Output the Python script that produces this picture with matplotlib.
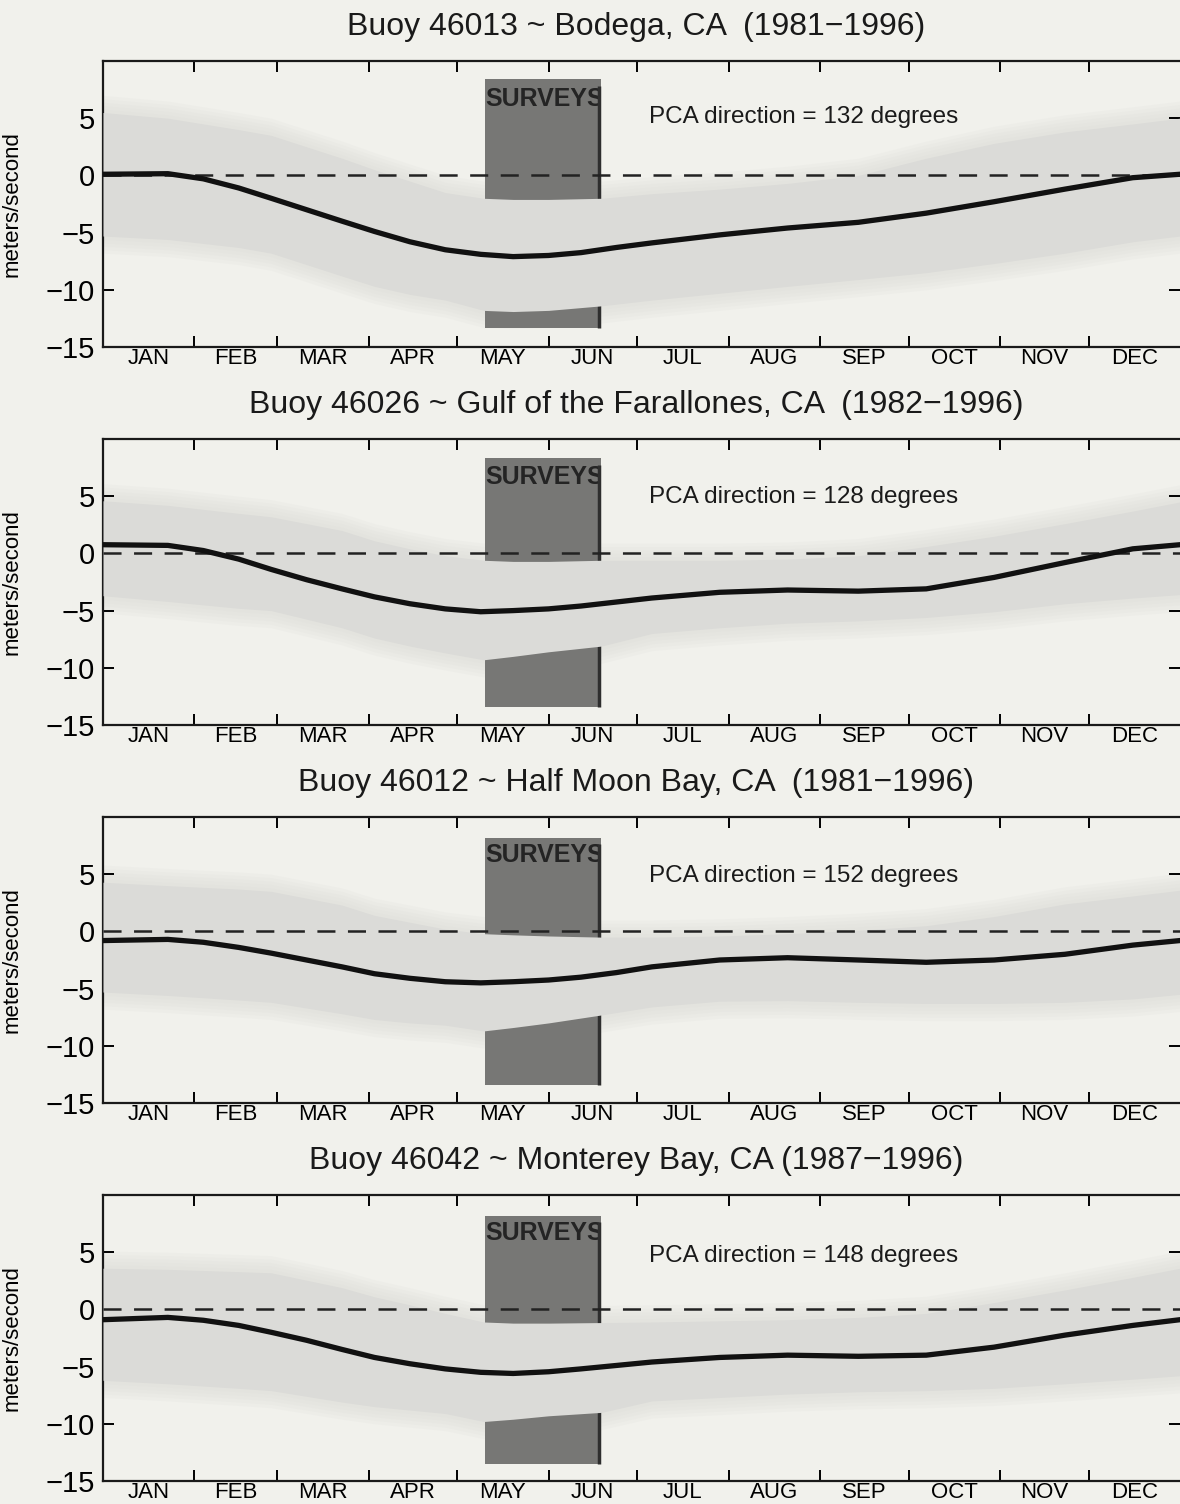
import numpy as np
import matplotlib
matplotlib.use('Agg')
import matplotlib.pyplot as plt
from matplotlib.patches import Rectangle

plt.rcParams['font.family'] = ['Liberation Sans', 'DejaVu Sans']
plt.rcParams['lines.scale_dashes'] = False

# buoy titles and principal-axis directions
titles = ['Buoy 46013 ~ Bodega, CA  (1981\u22121996)',
          'Buoy 46026 ~ Gulf of the Farallones, CA  (1982\u22121996)',
          'Buoy 46012 ~ Half Moon Bay, CA  (1981\u22121996)',
          'Buoy 46042 ~ Monterey Bay, CA (1987\u22121996)']
pca_dir = [132, 128, 152, 148]
pca_y = [5.1, 4.9, 4.8, 4.7]

months = ['JAN', 'FEB', 'MAR', 'APR', 'MAY', 'JUN',
          'JUL', 'AUG', 'SEP', 'OCT', 'NOV', 'DEC']
month_edges = [0, 31, 59, 90, 120, 151, 181, 212, 243, 273, 304, 334, 365]

# mean along-shore wind (day of year, m/s)
line_days = [0, 22, 34, 46, 57, 69, 81, 92, 104, 116, 128, 139, 151, 162,
             174, 186, 209, 232, 256, 279, 302, 326, 349, 365]
mean_46013 = [0.1, 0.15, -0.3, -1.1, -2.0, -3.0, -4.0, -4.9, -5.8, -6.5, -6.9, -7.1,
              -7.0, -6.75, -6.3, -5.9, -5.2, -4.6, -4.1, -3.3, -2.3, -1.2, -0.2, 0.1]
mean_46026 = [0.76, 0.7, 0.25, -0.5, -1.4, -2.3, -3.1, -3.8, -4.4, -4.85, -5.1, -5.0,
              -4.85, -4.6, -4.25, -3.9, -3.4, -3.2, -3.3, -3.1, -2.1, -0.8, 0.4, 0.76]
mean_46012 = [-0.8, -0.7, -0.95, -1.4, -1.9, -2.5, -3.1, -3.7, -4.1, -4.4, -4.5, -4.4,
              -4.25, -4.0, -3.6, -3.1, -2.5, -2.3, -2.5, -2.7, -2.5, -2.0, -1.2, -0.8]
mean_46042 = [-0.9, -0.7, -0.95, -1.4, -2.0, -2.7, -3.5, -4.2, -4.75, -5.2, -5.5, -5.6,
              -5.45, -5.2, -4.9, -4.6, -4.2, -4.0, -4.1, -4.0, -3.3, -2.25, -1.4, -0.9]

# +/- one standard deviation envelope
band_days = [0, 22, 46, 57, 81, 92, 104, 116, 129, 139, 151, 169, 186, 209,
             232, 256, 279, 302, 326, 349, 365]
hi_46013 = [5.5, 5.0, 4.0, 3.5, 1.5, 0.5, -0.5, -1.5, -2.0, -2.1, -2.1, -2.0, -1.6,
            -1.2, -0.7, 0.0, 1.5, 2.8, 3.8, 4.5, 5.0]
lo_46013 = [-5.3, -5.6, -6.3, -6.8, -8.8, -9.7, -10.4, -10.9, -11.8, -11.9, -11.8,
            -11.4, -10.9, -10.3, -9.7, -9.1, -8.5, -7.7, -6.8, -5.8, -5.3]
hi_46026 = [4.6, 4.2, 3.5, 3.2, 2.0, 1.1, 0.4, -0.2, -0.6, -0.7, -0.7, -0.6, -0.6,
            -0.6, -0.5, -0.2, 0.6, 1.5, 2.6, 3.7, 4.5]
lo_46026 = [-3.7, -4.2, -4.8, -5.0, -6.5, -7.4, -8.1, -8.7, -9.3, -9.0, -8.6, -8.1,
            -7.0, -6.5, -6.1, -5.9, -5.6, -5.1, -4.4, -3.9, -3.6]
hi_46012 = [4.3, 4.0, 3.7, 3.5, 2.3, 1.4, 0.8, 0.2, -0.2, -0.3, -0.4, -0.5, -0.5,
            -0.4, -0.2, 0.1, 0.5, 1.3, 2.4, 3.1, 3.6]
lo_46012 = [-5.3, -5.6, -6.0, -6.2, -7.2, -7.7, -8.0, -8.2, -8.7, -8.4, -8.0, -7.3,
            -6.6, -6.1, -6.05, -6.2, -6.3, -6.3, -6.2, -5.9, -5.5]
hi_46042 = [3.6, 3.5, 3.3, 3.2, 1.9, 1.1, 0.4, -0.35, -1.1, -1.2, -1.2, -1.15, -1.1,
            -1.0, -0.9, -0.7, -0.35, 0.6, 1.7, 2.8, 3.6]
lo_46042 = [-6.2, -6.5, -6.9, -7.1, -8.1, -8.5, -8.8, -9.1, -9.8, -9.6, -9.3, -9.0,
            -8.0, -7.7, -7.4, -7.2, -7.1, -6.9, -6.5, -6.1, -5.8]

# survey window
survey_start = 129.5
survey_end = 168.8
survey_top = [8.4, 8.3, 8.2, 8.2]
survey_bottom = [-13.3, -13.45, -13.45, -13.5]

means = [mean_46013, mean_46026, mean_46012, mean_46042]
highs = [hi_46013, hi_46026, hi_46012, hi_46042]
lows = [lo_46013, lo_46026, lo_46012, lo_46042]

BG = '#f1f1ec'
BAND = '#dbdbd8'
W, H = 1180, 1504

fig = plt.figure(figsize=(W / 100, H / 100), dpi=100, facecolor=BG)

for i in range(4):
    top_px = 61 + 378 * i
    bot_px = 347 + 378 * i
    ax = fig.add_axes([103 / W, 1 - bot_px / H, 1077 / W, (bot_px - top_px) / H])
    ax.set_facecolor(BG)
    ax.set_xlim(0, 365)
    ax.set_ylim(-15, 10)

    hi = np.array(highs[i])
    lo = np.array(lows[i])

    # soft edges of the envelope
    for w in [1.5, 1.2, 0.9, 0.6, 0.3]:
        ax.fill_between(band_days, lo - w, hi + w, color=BAND, alpha=0.16, lw=0, zorder=1)

    box = Rectangle((survey_start, survey_bottom[i]), survey_end - survey_start,
                    survey_top[i] - survey_bottom[i], facecolor='#777775',
                    edgecolor='none', zorder=2)
    ax.add_patch(box)
    ax.text(survey_start + 0.2, 6.7, 'SURVEYS', fontsize=18, fontweight='bold',
            color='#242424', va='center', ha='left', zorder=2.5)
    # dark right edge of the survey box, over the end of the label
    ax.vlines(survey_end - 0.6, survey_bottom[i], survey_top[i] - 0.6,
              color='#2e2e2e', lw=2.5, zorder=2.6)
    ax.fill_between([survey_end, survey_end + 4], 5.5, 8.0, color=BG, lw=0, zorder=2.55)

    ax.fill_between(band_days, lo, hi, color=BAND, lw=0, zorder=3)

    ax.axhline(0, color='#222222', lw=1.8, ls=(0, (13, 9)), zorder=4)
    ax.plot(line_days, means[i], color='#111111', lw=3.8, solid_capstyle='round',
            solid_joinstyle='round', zorder=5)

    ax.text(185, pca_y[i], 'PCA direction = %d degrees' % pca_dir[i],
            fontsize=17.5, va='center', ha='left', color='#1a1a1a', zorder=6)

    # month ticks on the boundaries, labels at mid-month
    ax.set_xticks(month_edges[1:-1])
    ax.set_xticklabels([])
    mids = [(month_edges[k] + month_edges[k + 1]) / 2 for k in range(12)]
    ax.set_xticks(mids, minor=True)
    ax.set_xticklabels(months, minor=True, fontsize=16)
    ax.tick_params(axis='x', which='minor', length=0, pad=1)
    ax.tick_params(axis='x', which='major', direction='in', length=8, width=1.4,
                   top=True, bottom=True)

    ax.set_yticks([-15, -10, -5, 0, 5])
    ax.set_yticklabels(['\u221215', '\u221210', '\u22125', '0', '5'])
    ax.tick_params(axis='y', direction='in', length=8, width=1.4, left=True,
                   right=True, labelsize=21, pad=6)

    for s in ['left', 'top', 'bottom']:
        ax.spines[s].set_linewidth(1.6)
        ax.spines[s].set_color('#1a1a1a')
    ax.spines['right'].set_visible(False)

    ax.set_ylabel('meters/second', fontsize=16, labelpad=6)
    ax.yaxis.set_label_coords(-0.075, 0.5)

    fig.text(636 / W, 1 - (27 + 378 * i) / H, titles[i], fontsize=23,
             ha='center', va='center', color='#1a1a1a')

fig.savefig('out.png', dpi=100, facecolor=BG)
